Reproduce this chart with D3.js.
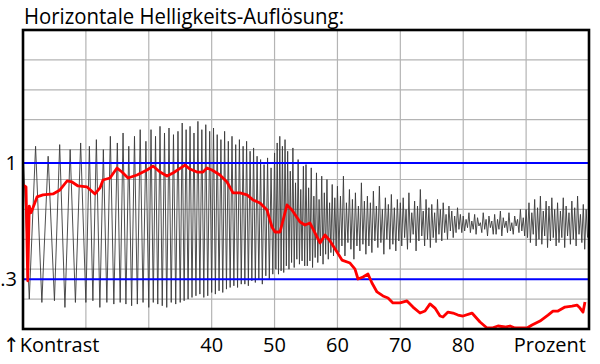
<!DOCTYPE html>
<html>
<head>
<meta charset="utf-8">
<script src="https://cdn.jsdelivr.net/npm/d3@7"></script>
<style>
  html, body { margin: 0; padding: 0; background: #fff; }
  svg { display: block; }
  text { font-family: "Open Sans", "DejaVu Sans", sans-serif; fill: #000; }
</style>
</head>
<body>
<svg id="chart" width="600" height="364"></svg>
<script>
// ---------- data ----------
const title = "Horizontale Helligkeits-Auflösung:";
const xGrid = [20, 30, 40, 50, 60, 70, 80, 90];
const xTicks = [40, 50, 60, 70, 80];
const xTickLabels = ["40", "50", "60", "70", "80"];
const yTicks = [1, 0.3];
const yTickLabels = ["1", ".3"];
const yGrid = [0.18, 0.36, 0.54, 0.72, 0.90, 1.08, 1.26, 1.44, 1.62];
const leftLabel = "↑Kontrast";
const rightLabel = "Prozent";

// red line: measured contrast (x in Prozent, y contrast)
const redX = [10.0, 10.48, 10.75, 11.0, 11.27, 11.59, 12.23, 13.18, 14.77, 15.88,
  17.0, 17.79, 18.75, 20.18, 21.45, 22.24, 22.72, 23.83, 24.95, 25.74,
  26.7, 28.13, 29.72, 30.67, 31.78, 32.9, 33.85, 35.76, 36.55, 37.67,
  38.62, 39.26, 40.05, 41.32, 42.44, 43.39, 44.5, 45.62, 46.57, 47.69,
  48.8, 49.59, 50.07, 50.87, 51.98, 52.77, 54.05, 54.84, 55.64, 56.43,
  57.23, 58.02, 58.82, 59.93, 60.72, 62.0, 62.79, 63.27, 64.06, 64.86,
  65.49, 66.29, 67.24, 68.04, 68.83, 69.95, 71.06, 72.01, 73.13, 73.92,
  74.72, 75.51, 76.31, 76.78, 77.58, 78.37, 79.17, 79.96, 81.39, 82.67,
  83.78, 84.57, 85.53, 86.64, 87.44, 88.23, 90.14, 90.94, 92.21, 93.48,
  94.27, 95.07, 96.18, 97.3, 98.09, 98.57, 99.05, 99.36];
const redY = [0.867, 0.855, 0.29, 0.74, 0.70, 0.73, 0.795, 0.807, 0.813, 0.837,
  0.891, 0.885, 0.861, 0.855, 0.813, 0.849, 0.897, 0.909, 0.969, 0.945,
  0.909, 0.927, 0.957, 0.981, 0.945, 0.921, 0.939, 0.987, 0.963, 0.945,
  0.945, 0.969, 0.957, 0.927, 0.885, 0.819, 0.819, 0.807, 0.777, 0.759,
  0.716, 0.614, 0.584, 0.584, 0.747, 0.716, 0.644, 0.626, 0.638, 0.578,
  0.518, 0.566, 0.530, 0.464, 0.415, 0.397, 0.361, 0.301, 0.313, 0.331,
  0.277, 0.223, 0.199, 0.187, 0.157, 0.157, 0.169, 0.132, 0.096, 0.108,
  0.151, 0.126, 0.078, 0.072, 0.102, 0.096, 0.084, 0.078, 0.096, 0.042,
  0.006, 0.006, 0.018, 0.012, 0.018, 0.006, 0.006, 0.024, 0.048, 0.084,
  0.108, 0.108, 0.132, 0.138, 0.144, 0.126, 0.102, 0.163];

// black sweep signal: successive peaks / troughs, grouped per 5 % section
const sweepStart = [10, 15, 20, 25, 30, 35, 40, 45, 50, 55, 60, 65, 70, 75, 80, 85, 90, 95];
const sweepWidth = 5;
const sweep10 = [1.08, 0.18, 1.10, 0.16, 1.04];
const sweep15 = [0.17, 1.11, 0.13, 1.08, 0.16, 1.12];
const sweep20 = [0.16, 1.10, 0.17, 1.14, 0.13, 1.08, 0.16, 1.16, 0.15];
const sweep25 = [1.12, 0.16, 1.18, 0.15, 1.10, 0.14, 1.16, 0.15, 1.20, 0.16, 1.13];
const sweep30 = [0.13, 1.20, 0.16, 1.16, 0.15, 1.22, 0.14, 1.18, 0.13, 1.21, 0.16, 1.17, 0.15, 1.19];
const sweep35 = [0.16, 1.24, 0.17, 1.20, 0.18, 1.22, 0.19, 1.18, 0.20, 1.25, 0.21, 1.20, 0.19, 1.23, 0.20, 1.19];
const sweep40 = [0.22, 1.21, 0.21, 1.17, 0.23, 1.14, 0.22, 1.19, 0.24, 1.13, 0.25, 1.16, 0.26, 1.11, 0.25, 1.14, 0.27];
const sweep45 = [1.10, 0.27, 1.13, 0.26, 1.07, 0.29, 1.09, 0.28, 1.04, 0.30, 1.02, 0.27, 0.99, 0.32, 1.03, 0.30, 0.97, 0.33];
const sweep50 = [1.06, 0.36, 1.12, 0.33, 1.16, 0.35, 1.10, 0.34, 1.14, 0.38, 1.07, 0.36, 0.95, 0.40, 1.09, 0.37, 0.88, 0.42, 1.02, 0.39, 0.84, 0.41, 0.98, 0.38];
const sweep55 = [0.99, 0.38, 0.85, 0.41, 0.97, 0.37, 0.80, 0.43, 0.94, 0.40, 0.78, 0.44, 0.92, 0.39, 0.82, 0.45, 0.90, 0.42, 0.76, 0.46, 0.87, 0.44, 0.79, 0.47];
const sweep60 = [0.86, 0.46, 0.80, 0.50, 0.92, 0.44, 0.76, 0.52, 0.84, 0.48, 0.78, 0.42, 0.82, 0.50, 0.74, 0.47, 0.88, 0.51, 0.77, 0.45, 0.80];
const sweep65 = [0.50, 0.76, 0.46, 0.83, 0.53, 0.74, 0.49, 0.86, 0.52, 0.72, 0.45, 0.79, 0.54, 0.75, 0.48, 0.81, 0.51, 0.73, 0.47, 0.78, 0.53];
const sweep70 = [0.76, 0.50, 0.79, 0.55, 0.72, 0.48, 0.82, 0.52, 0.70, 0.57, 0.77, 0.47, 0.74, 0.53, 0.84, 0.56, 0.71, 0.50, 0.78, 0.54, 0.73, 0.49];
const sweep75 = [0.75, 0.55, 0.70, 0.52, 0.78, 0.57, 0.72, 0.53, 0.76, 0.58, 0.69, 0.54, 0.74, 0.59, 0.71, 0.55, 0.68, 0.58, 0.73, 0.60, 0.69, 0.58];
const sweep80 = [0.68, 0.59, 0.66, 0.61, 0.70, 0.58, 0.65, 0.60, 0.69, 0.57, 0.67, 0.62, 0.64, 0.58, 0.70, 0.60, 0.66, 0.56, 0.68, 0.61, 0.65, 0.57];
const sweep85 = [0.69, 0.57, 0.66, 0.60, 0.71, 0.56, 0.67, 0.61, 0.65, 0.58, 0.70, 0.59, 0.64, 0.57, 0.68, 0.62, 0.66, 0.58, 0.72, 0.59, 0.67, 0.56];
const sweep90 = [0.72, 0.55, 0.76, 0.52, 0.70, 0.57, 0.78, 0.50, 0.73, 0.54, 0.80, 0.51, 0.71, 0.56, 0.77, 0.49, 0.74, 0.53, 0.79, 0.55, 0.72, 0.50];
const sweep95 = [0.76, 0.52, 0.71, 0.55, 0.79, 0.49, 0.74, 0.56, 0.70, 0.51, 0.77, 0.54, 0.73, 0.50, 0.80, 0.57, 0.69, 0.52, 0.75, 0.48, 0.72, 0.55];
const sweepSections = [sweep10, sweep15, sweep20, sweep25, sweep30, sweep35, sweep40, sweep45, sweep50,
  sweep55, sweep60, sweep65, sweep70, sweep75, sweep80, sweep85, sweep90, sweep95];

// ---------- drawing ----------
const svg = d3.select("#chart");
const plot = { left: 23, right: 589, top: 30, bottom: 329 };

const x = d3.scaleLinear().domain([10, 100]).range([plot.left, plot.right]);
const y = d3.scaleLinear().domain([0, 1.8]).range([plot.bottom, plot.top]);

// title
svg.append("text")
  .attr("x", 24).attr("y", 24)
  .attr("font-size", 21)
  .attr("textLength", 320).attr("lengthAdjust", "spacingAndGlyphs")
  .text(title);

// grid
const grid = svg.append("g").attr("stroke", "#b4b4b4").attr("stroke-width", 1.2);
grid.selectAll("line.vx").data(xGrid).join("line")
  .attr("x1", d => x(d)).attr("x2", d => x(d))
  .attr("y1", plot.top).attr("y2", plot.bottom);
grid.selectAll("line.hy").data(yGrid).join("line")
  .attr("x1", plot.left).attr("x2", plot.right)
  .attr("y1", d => y(d)).attr("y2", d => y(d));

// black sweep signal
const sweepPts = [];
sweepSections.forEach((vals, i) => {
  const x0 = sweepStart[i], x1 = x0 + sweepWidth;
  const pos = d3.scalePoint().domain(d3.range(vals.length + 1)).range([x(x0), x(x1)]);
  vals.forEach((v, j) => sweepPts.push([pos(j), y(v)]));
});
const lineGen = d3.line();
svg.append("path")
  .attr("d", lineGen(sweepPts))
  .attr("fill", "none")
  .attr("stroke", "#3a3a3a")
  .attr("stroke-width", 0.9)
  .attr("stroke-linejoin", "miter");

// blue reference lines
svg.selectAll("line.blue").data(yTicks).join("line")
  .attr("x1", plot.left).attr("x2", plot.right)
  .attr("y1", d => y(d)).attr("y2", d => y(d))
  .attr("stroke", "#0000ff").attr("stroke-width", 2);

// red measured line
const redPts = redX.map((v, i) => [x(v), y(redY[i])]);
svg.append("path")
  .attr("d", lineGen(redPts))
  .attr("fill", "none")
  .attr("stroke", "#ff0000")
  .attr("stroke-width", 2.8)
  .attr("stroke-linejoin", "round");

// frame
svg.append("rect")
  .attr("x", plot.left).attr("y", plot.top)
  .attr("width", plot.right - plot.left).attr("height", plot.bottom - plot.top)
  .attr("fill", "none").attr("stroke", "#000").attr("stroke-width", 2.6);

// y labels
svg.selectAll("text.ylab").data(yTicks).join("text")
  .attr("x", 17).attr("y", d => y(d))
  .attr("dy", "0.36em")
  .attr("text-anchor", "end")
  .attr("font-size", 20)
  .text((d, i) => yTickLabels[i]);

// x labels
svg.selectAll("text.xlab").data(xTicks).join("text")
  .attr("x", d => x(d)).attr("y", 352)
  .attr("text-anchor", "middle")
  .attr("font-size", 20)
  .text((d, i) => xTickLabels[i]);

svg.append("text").attr("x", 3).attr("y", 352).attr("font-size", 20).text(leftLabel);
svg.append("text").attr("x", 586).attr("y", 352).attr("text-anchor", "end").attr("font-size", 20).text(rightLabel);
</script>
</body>
</html>
